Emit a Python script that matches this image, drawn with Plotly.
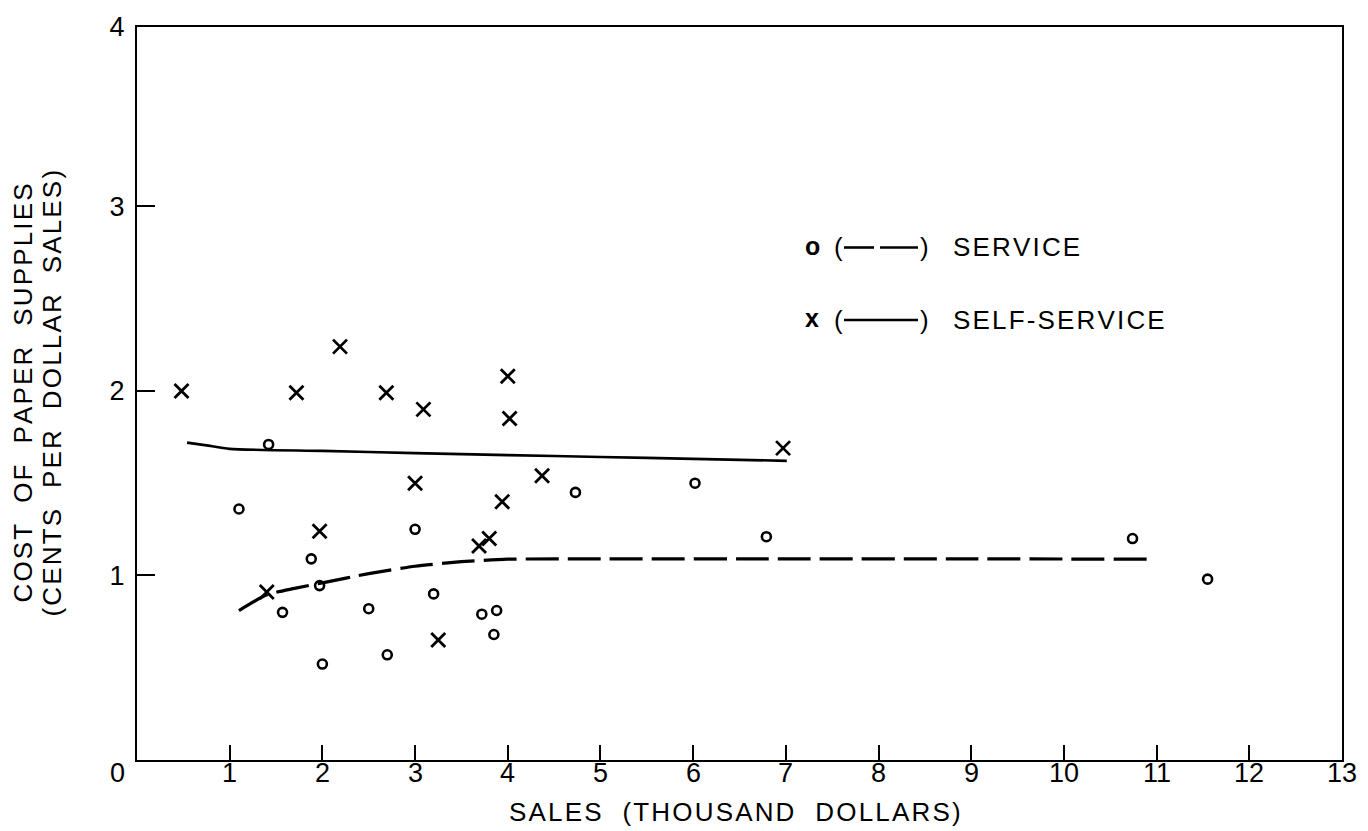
import plotly.graph_objects as go

# Sales (thousand dollars) vs. cost of paper supplies (cents per dollar of sales)
service_sales = [1.42, 1.10, 3.00, 1.88, 1.97, 1.57, 2.50, 2.70, 2.00, 4.73,
                 3.20, 3.72, 3.88, 3.85, 6.02, 6.79, 10.74, 11.55]
service_cost = [1.71, 1.36, 1.25, 1.09, 0.945, 0.80, 0.82, 0.57, 0.52, 1.45,
                0.90, 0.79, 0.81, 0.68, 1.50, 1.21, 1.20, 0.98]

self_sales = [0.48, 1.72, 2.19, 2.69, 3.00, 1.97, 1.40, 3.09, 4.00, 4.02,
              4.37, 3.94, 3.69, 3.80, 3.25, 6.97]
self_cost = [2.00, 1.99, 2.24, 1.99, 1.50, 1.24, 0.91, 1.90, 2.08, 1.85,
             1.54, 1.40, 1.16, 1.20, 0.65, 1.69]

# Freehand trend curves
service_fit_x = [1.10, 1.40, 1.70, 2.00, 2.50, 3.00, 3.50, 4.00, 5.00, 7.00, 9.00, 10.91]
service_fit_y = [0.81, 0.895, 0.93, 0.96, 1.01, 1.05, 1.075, 1.088, 1.09, 1.09, 1.09, 1.088]
self_fit_x = [0.54, 0.75, 1.00, 2.00, 3.00, 4.00, 5.00, 6.00, 7.01]
self_fit_y = [1.72, 1.705, 1.686, 1.675, 1.663, 1.652, 1.642, 1.632, 1.621]

x_ticks = list(range(1, 14))
x_tick_text = [str(v) for v in x_ticks]
y_top = 3.972
y_ticks = [1, 2, 3, y_top]
y_tick_text = ["1", "2", "3", "4"]

FONT = "Liberation Sans"
HS = "\u200a"


def track(s, n=1):
    """Spread lettering out a little, like stencilled captions."""
    return (HS * n).join(s)


W, H = 1368, 831
M = dict(l=137, r=26, t=22, b=71)
PW = W - M["l"] - M["r"]
PH = H - M["t"] - M["b"]


def px_x(px):
    return (px - M["l"]) / PW


def px_y(py):
    return (H - M["b"] - py) / PH


fig = go.Figure()

fig.add_trace(go.Scatter(
    x=self_fit_x, y=self_fit_y, mode="lines",
    line=dict(color="black", width=2.6, shape="spline", smoothing=0.6),
    hoverinfo="skip", showlegend=False))
fig.add_trace(go.Scatter(
    x=service_fit_x, y=service_fit_y, mode="lines",
    line=dict(color="black", width=3.2, shape="spline", smoothing=0.6, dash="33px,9px"),
    hoverinfo="skip", showlegend=False))
fig.add_trace(go.Scatter(
    x=service_sales, y=service_cost, mode="markers", name="SERVICE",
    marker=dict(symbol="circle-open", size=9, color="black", line=dict(width=2.6, color="black")),
    showlegend=False))
fig.add_trace(go.Scatter(
    x=self_sales, y=self_cost, mode="markers", name="SELF-SERVICE",
    marker=dict(symbol="x-thin", size=14, color="black", line=dict(width=2.8, color="black")),
    showlegend=False))

annotations = []
shapes = []

# x tick labels sit close under the axis line
for v, t in zip(x_ticks, x_tick_text):
    annotations.append(dict(text=t, xref="x", yref="paper", x=v, y=px_y(773),
                            showarrow=False, font=dict(family=FONT, size=27, color="black"),
                            xanchor="center", yanchor="middle"))

# Origin label, axis titles
annotations.append(dict(text="0", xref="paper", yref="paper", x=px_x(117), y=px_y(773),
                        showarrow=False, font=dict(family=FONT, size=27, color="black"),
                        xanchor="center", yanchor="middle"))
annotations.append(dict(text=track("SALES  (THOUSAND  DOLLARS)"), xref="paper", yref="paper",
                        x=px_x(735), y=px_y(812), showarrow=False,
                        font=dict(family=FONT, size=26, color="black"),
                        xanchor="center", yanchor="middle"))
annotations.append(dict(text=track("COST  OF  PAPER  SUPPLIES"), xref="paper", yref="paper",
                        x=px_x(22), y=px_y(391), textangle=-90, showarrow=False,
                        font=dict(family=FONT, size=26, color="black"),
                        xanchor="center", yanchor="middle"))
annotations.append(dict(text=track("(CENTS  PER  DOLLAR  SALES)"), xref="paper", yref="paper",
                        x=px_x(51), y=px_y(391), textangle=-90, showarrow=False,
                        font=dict(family=FONT, size=26, color="black"),
                        xanchor="center", yanchor="middle"))

# Key
rows = [("o", track("SERVICE"), 244, [(844, 874), (880, 918)]),
        ("x", track("SELF-SERVICE"), 317, [(844, 918)])]
for sym, label, py, segs in rows:
    annotations.append(dict(text="<b>" + sym + "</b>", xref="paper", yref="paper",
                            x=px_x(812), y=px_y(py - 2), showarrow=False,
                            font=dict(family=FONT, size=25, color="black"),
                            xanchor="center", yanchor="middle"))
    annotations.append(dict(text="(", xref="paper", yref="paper", x=px_x(838), y=px_y(py),
                            showarrow=False, font=dict(family=FONT, size=26, color="black"),
                            xanchor="center", yanchor="middle"))
    annotations.append(dict(text=")", xref="paper", yref="paper", x=px_x(924), y=px_y(py),
                            showarrow=False, font=dict(family=FONT, size=26, color="black"),
                            xanchor="center", yanchor="middle"))
    annotations.append(dict(text=label, xref="paper", yref="paper", x=px_x(951), y=px_y(py),
                            showarrow=False, font=dict(family=FONT, size=26, color="black"),
                            xanchor="left", yanchor="middle"))
    for a, b in segs:
        shapes.append(dict(type="line", xref="paper", yref="paper",
                           x0=px_x(a), x1=px_x(b), y0=px_y(py), y1=px_y(py),
                           line=dict(color="black", width=2.6)))

fig.update_layout(
    width=W, height=H, margin=M,
    paper_bgcolor="white", plot_bgcolor="white",
    font=dict(family=FONT, color="black", size=26),
    annotations=annotations, shapes=shapes,
    xaxis=dict(
        range=[0, 13], tickvals=x_ticks, showticklabels=False,
        ticks="inside", ticklen=15, tickwidth=1.6, tickcolor="black",
        showline=True, linewidth=2.2, linecolor="black", mirror=True,
        showgrid=False, zeroline=False,
    ),
    yaxis=dict(
        range=[0, y_top], tickvals=y_ticks, ticktext=y_tick_text,
        ticks="inside", ticklen=18, tickwidth=1.6, tickcolor="black",
        showline=True, linewidth=2.2, linecolor="black", mirror=True,
        showgrid=False, zeroline=False, ticklabelstandoff=5,
        tickfont=dict(family=FONT, size=27, color="black"),
    ),
)

fig.write_html("out.html")
